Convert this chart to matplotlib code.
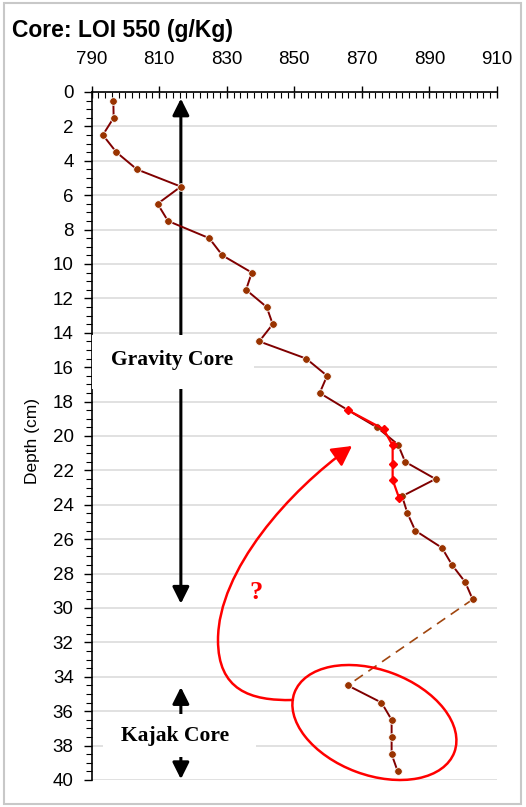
import numpy as np
import matplotlib
matplotlib.use('Agg')
import matplotlib.pyplot as plt
from matplotlib.patches import Ellipse, Rectangle, FancyArrowPatch, ArrowStyle
from matplotlib.path import Path
from matplotlib.transforms import Affine2D

# gravity core, LOI 550 (g/Kg) vs depth (cm)
gravity_depth = [0.5, 1.5, 2.5, 3.5, 4.5, 5.5, 6.5, 7.5, 8.5, 9.5, 10.5, 11.5, 12.5,
                 13.5, 14.5, 15.5, 16.5, 17.5, 18.5, 19.5, 20.5, 21.5, 22.5, 23.5,
                 24.5, 25.5, 26.5, 27.5, 28.5, 29.5]
gravity_loi = [796.4, 796.5, 793.3, 797.3, 803.4, 816.4, 809.5, 812.6, 824.8, 828.7,
               837.4, 835.7, 841.8, 843.6, 839.6, 853.5, 859.7, 857.5, 865.9, 874.5,
               880.7, 882.8, 891.8, 881.9, 883.5, 885.8, 893.7, 896.7, 900.6, 902.8]

# kajak core
kajak_depth = [34.5, 35.5, 36.5, 37.5, 38.5, 39.5]
kajak_loi = [865.8, 875.8, 878.8, 878.8, 878.8, 880.6]

# overlapping (red) series
red_depth = [18.5, 19.6, 20.55, 21.6, 22.55, 23.6]
red_loi = [865.9, 876.4, 879.1, 879.1, 879.1, 881.0]

W, H = 526, 807
fig = plt.figure(figsize=(W / 100, H / 100), dpi=100)
ax = fig.add_axes([91.7 / W, 1 - 780 / H, (497 - 91.7) / W, (780 - 92) / H])

# pixel coords (origin top-left) for hand-drawn annotations
px = Affine2D().scale(1 / W, -1 / H).translate(0, 1) + fig.transFigure

sans = 'Liberation Sans'
serif = 'Liberation Serif'

ax.set_xlim(790, 910)
ax.set_ylim(40, 0)
ax.set_xticks(np.arange(790, 911, 20))
ax.set_xticks(np.arange(790, 911, 2), minor=True)
ax.set_yticks(np.arange(0, 41, 2))
ax.set_yticks(np.arange(0, 40.1, 0.5), minor=True)
ax.xaxis.tick_top()
ax.tick_params(axis='x', which='major', direction='inout', length=8, width=1,
               pad=13, labelsize=13.5)
ax.tick_params(axis='x', which='minor', direction='in', length=4, width=0.8)
ax.tick_params(axis='y', which='major', direction='out', length=6, width=1,
               pad=7, labelsize=13.5)
ax.tick_params(axis='y', which='minor', direction='out', length=4, width=0.8)
for lab in ax.get_xticklabels() + ax.get_yticklabels():
    lab.set_fontfamily(sans)
for s in ['right', 'bottom']:
    ax.spines[s].set_visible(False)
ax.spines['top'].set_linewidth(1.2)
ax.spines['left'].set_linewidth(1.2)
ax.set_axisbelow(True)
ax.grid(axis='y', which='major', color='#d9d9d9', lw=1.1)
ax.grid(axis='x', visible=False)

# core span arrows (drawn under the label boxes)
arr = ArrowStyle('<|-|>', head_length=10, head_width=5)
ax.add_patch(FancyArrowPatch((816.4, 0.38), (816.4, 29.75), arrowstyle=arr,
                             mutation_scale=1, lw=2.2, color='black',
                             shrinkA=0, shrinkB=0, zorder=2))
ax.add_patch(FancyArrowPatch((816.4, 34.6), (816.4, 39.95), arrowstyle=arr,
                             mutation_scale=1, lw=2.2, color='black',
                             shrinkA=0, shrinkB=0, zorder=2))

# white boxes behind labels
ax.add_patch(Rectangle((790, 14.1), 48.0, 3.15, facecolor='white',
                       edgecolor='none', zorder=3, clip_on=False))
ax.add_patch(Rectangle((793.4, 36.15), 45.2, 2.5, facecolor='white',
                       edgecolor='none', zorder=3, clip_on=False))
ax.text(813.8, 15.9, 'Gravity Core', ha='center', va='baseline', fontsize=15.5,
        fontweight='bold', family=serif, zorder=4)
ax.text(814.8, 37.76, 'Kajak Core', ha='center', va='baseline', fontsize=15.5,
        fontweight='bold', family=serif, zorder=4)

# data
ax.plot([gravity_loi[-1], kajak_loi[0]], [gravity_depth[-1], kajak_depth[0]],
        color='#a0460f', lw=1.2, dashes=(6, 4), zorder=5)
ax.plot(gravity_loi, gravity_depth, color='#800000', lw=1.4, marker='o', ms=5.5,
        mfc='#993300', mec='white', mew=0.6, zorder=6)
ax.plot(kajak_loi, kajak_depth, color='#800000', lw=1.4, marker='o', ms=5.5,
        mfc='#993300', mec='white', mew=0.6, zorder=6)
ax.plot(red_loi, red_depth, color='red', lw=1.6, marker='D', ms=4.5,
        mfc='red', mec='red', zorder=7)

# red annotation: ellipse + curved arrow + question mark
fig.add_artist(Ellipse((374.4, 722.5), 170.6, 105, angle=20.4, fill=False,
                       edgecolor='red', lw=1.8, transform=px))
curve = Path([(293, 700), (250, 701), (218, 690), (218, 640),
              (218, 570), (290, 490), (352, 446)],
             [Path.MOVETO, Path.CURVE4, Path.CURVE4, Path.CURVE4,
              Path.CURVE4, Path.CURVE4, Path.CURVE4])
fig.add_artist(FancyArrowPatch(path=curve, arrowstyle=ArrowStyle('-|>', head_length=12,
                                                                  head_width=6.5),
                               mutation_scale=1, lw=1.8, color='red', transform=px))
ax.text(838.7, 29.5, '?', ha='center', va='baseline', fontsize=19,
        fontweight='bold', family=serif, color='red', zorder=8)

# titles
fig.text(12 / W, 1 - 37 / H, 'Core: LOI 550 (g/Kg)', fontsize=16.5, fontweight='bold',
         family=sans, ha='left', va='baseline')
fig.text(33 / W, 1 - 441 / H, 'Depth (cm)', rotation=90, fontsize=12.5, family=sans,
         ha='center', va='center')

# chart border
fig.add_artist(Rectangle((4, 3), 517, 801, fill=False, edgecolor='#c8c8c8', lw=1.5,
                         transform=px))

fig.savefig('out.png', dpi=100)
